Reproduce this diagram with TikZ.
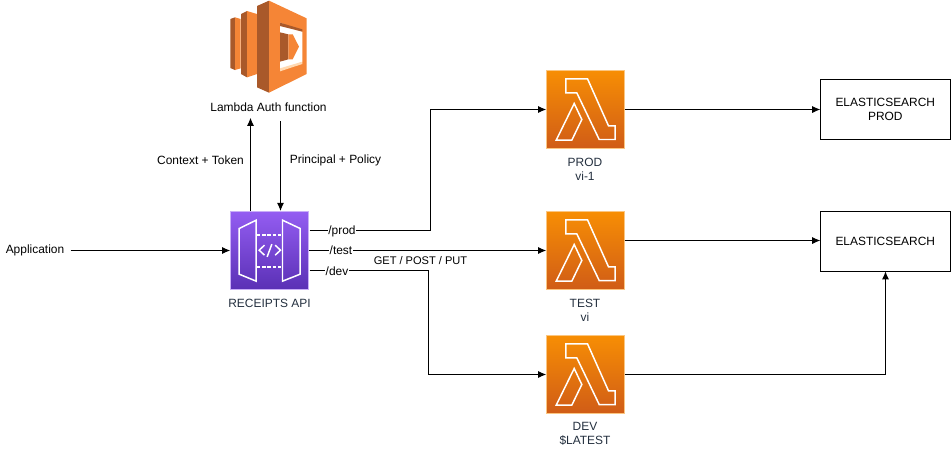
\documentclass[tikz,border=0pt]{standalone}
\usepackage{fontspec}
\usetikzlibrary{arrows.meta}
\setmainfont{Liberation Sans}
\definecolor{lamlight}{HTML}{F58536}
\definecolor{lamdark}{HTML}{A9592A}
\definecolor{captext}{HTML}{232F3E}
\definecolor{apitop}{HTML}{945DF2}
\definecolor{apibot}{HTML}{5A30B5}
\definecolor{fntop}{HTML}{F78E04}
\definecolor{fnbot}{HTML}{D05C17}
\tikzset{
  txt/.style={font=\fontsize{6.8}{8}\selectfont,align=center},
  smalltxt/.style={font=\fontsize{6.3}{8}\selectfont,align=center},
  captxt/.style={txt,text=captext},
  tag/.style={txt,fill=white,inner sep=0.5pt},
  fnbox/.style={minimum size=1.57cm,inner sep=0pt,outer sep=0pt,draw=fntop!50!white,line width=0.5pt,top color=fntop,bottom color=fnbot},
  apibox/.style={minimum size=1.57cm,inner sep=0pt,outer sep=0pt,draw=apitop!50!white,line width=0.5pt,top color=apitop,bottom color=apibot},
  esbox/.style={txt,draw,minimum width=2.6cm,minimum height=1.2cm,inner sep=0pt,outer sep=0pt},
  glyph/.style={draw=white,line width=0.85pt},
}
\newcommand{\lambdaglyph}[1]{%
  \draw[glyph,shift={(#1)}] (-19.7,-30.7) -- (2,-30.7) -- (23,16.3) -- (29.7,16.3) -- (29.7,30) -- (13.7,30) -- (-8.7,-16.7) -- (-19.7,-16.7) -- cycle;
  \draw[glyph,shift={(#1)}] (-11.3,-6) -- (-3.7,10) -- (-13.7,30.7) -- (-29.3,30.7) -- cycle;
}
\begin{document}
\begin{tikzpicture}[>={Latex[length=4.6pt,width=4pt]},x=0.02cm,y=-0.02cm,line width=0.57pt]
\useasboundingbox (0,0) rectangle (951,450);

% lambda auth icon
\begin{scope}[shift={(225,0)},scale=1/3]
\fill[lamdark] (16,57) -- (30,52) -- (30,210) -- (16,204) -- cycle;
\fill[lamlight] (30,52) -- (47,57) -- (47,205) -- (30,210) -- cycle;
\fill[lamdark] (48,42) -- (66,33) -- (66,232) -- (48,222) -- cycle;
\fill[lamlight] (66,33) -- (96,42) -- (96,222) -- (66,232) -- cycle;
\fill[lamdark] (96,18) -- (132,2) -- (132,278) -- (96,262) -- cycle;
\fill[lamlight] (132,2) -- (245,55) -- (245,222) -- (132,278) -- cycle;
\fill[white] (165,68) -- (232,95) -- (232,185) -- (165,212) -- cycle;
\fill[lamdark] (165,68) -- (232,88) -- (232,95) -- (165,78) -- cycle;
\fill[orange!30!white] (165,205) -- (232,185) -- (232,192) -- (165,214) -- cycle;
\fill[lamdark] (165,97) -- (190,103) -- (190,178) -- (165,185) -- cycle;
\fill[lamlight] (190,103) -- (203,103) -- (222,140) -- (203,178) -- (190,178) -- cycle;
\end{scope}

\node (authlabel) at (268.5,107) [txt] {Lambda Auth function};
\node (app) at (35,250.5) [txt] {Application};

% api gateway
\node (api) at (269.5,250.5) [apibox] {};
\begin{scope}[shift={(api.center)},scale=1/3]
\draw[glyph] (-40,-91) -- (-91,-66) -- (-91,71) -- (-40,92) -- cycle;
\draw[glyph] (39,-91) -- (92,-66) -- (92,71) -- (39,92) -- cycle;
\draw[glyph,dash pattern=on 2pt off 1pt] (-38,-46) -- (38,-46);
\draw[glyph,dash pattern=on 2pt off 1pt] (-38,49) -- (38,49);
\draw[glyph] (-15,-16) -- (-31,-1) -- (-15,14);
\draw[glyph] (7,-19) -- (-7,19);
\draw[glyph] (17,-16) -- (33,-1) -- (17,14);
\end{scope}
\node (apilabel) at (269.5,303.5) [captxt] {RECEIPTS API};

% functions
\node (prodfn) at (585.5,109.5) [fnbox] {};
\node (testfn) at (585.5,250.5) [fnbox] {};
\node (devfn) at (585.5,374.5) [fnbox] {};
\lambdaglyph{prodfn.center}
\lambdaglyph{testfn.center}
\lambdaglyph{devfn.center}
\node (prodlabel) at (585,169) [captxt] {PROD\\vi-1};
\node (testlabel) at (585,310) [captxt] {TEST\\vi};
\node (devlabel) at (585,434) [captxt] {DEV\\\$LATEST};

\node (esprod) at (885.3,109.5) [esbox] {ELASTICSEARCH\\PROD};
\node (es) at (885.3,241.3) [esbox] {ELASTICSEARCH};

\coordinate (apiup) at (250.5,211);
\coordinate (apidown) at (280.5,211);
\coordinate (apiprod) at (309.5,230.5);
\coordinate (apidev) at (309.5,270.5);
\coordinate (authdown) at (280.5,121);
\coordinate (testout) at (624.7,240.5);
\coordinate (esin) at (885.5,271.3);

\draw[->] (app.east) -- (api.west);
\draw[->] (apiup) -- (authlabel.south -| apiup);
\draw[->] (authdown) -- (apidown);
\draw[->] (apiprod) -- ++(121,0) |- (prodfn.west);
\draw[->] (api.east) -- (testfn.west);
\draw[->] (apidev) -- ++(118.5,0) |- (devfn.west);
\draw[->] (prodfn.east) -- (esprod.west);
\draw[->] (testout) -- (testout -| es.west);
\draw[->] (devfn.east) -| (esin);

\node (ctxlabel) at (200.5,160.5) [txt] {Context + Token};
\node (pollabel) at (335.5,160.5) [txt] {Principal + Policy};
\node (prodtag) at (342,231) [tag] {/prod};
\node (testtag) at (341,250) [tag] {/test};
\node (devtag) at (337,271) [tag] {/dev};
\node (verbs) at (420.5,261) [smalltxt] {GET / POST / PUT};

\end{tikzpicture}
\end{document}
